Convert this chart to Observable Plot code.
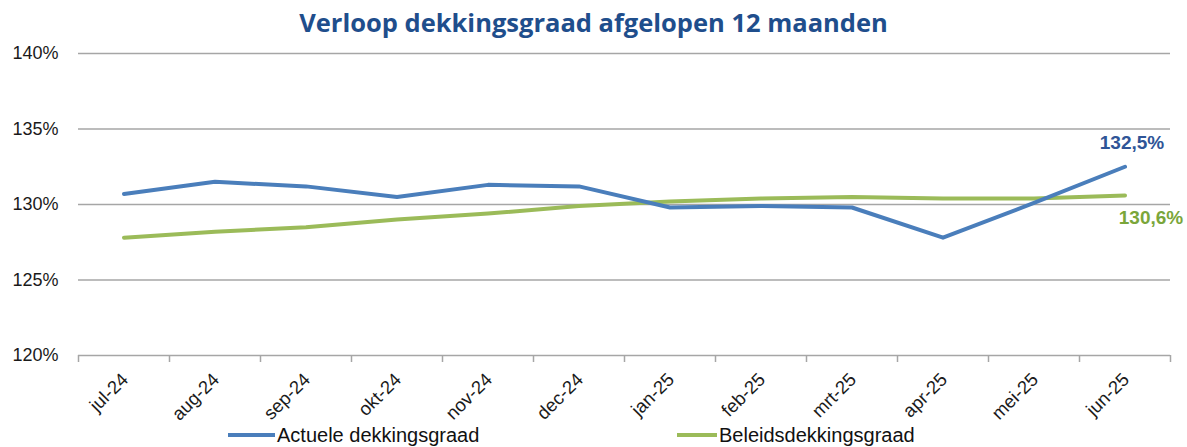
<!DOCTYPE html>
<html>
<head>
<meta charset="utf-8">
<script src="https://cdn.jsdelivr.net/npm/d3@7"></script>
<script src="https://cdn.jsdelivr.net/npm/@observablehq/plot@0.6"></script>
<style>
  html, body { margin: 0; padding: 0; background: #fff; }
  #wrap { position: relative; width: 1187px; height: 447px; overflow: hidden; font-family: "Liberation Sans", Arial, sans-serif; background: #fff; }
  #title { position: absolute; left: 0; top: 5px; width: 1187px; text-align: center; font-family: "Open Sans", sans-serif; font-weight: 700; font-size: 25.5px; color: #1f4e8c; line-height: 34px; }
  #chart { position: absolute; left: 0; top: 44px; }
  .leg { position: absolute; top: 424px; font-size: 20px; color: #111; line-height: 22px; display: flex; align-items: center; }
  .sw { display: inline-block; height: 4px; margin-right: 2px; }
</style>
</head>
<body>
<div id="wrap">
  <div id="title">Verloop dekkingsgraad afgelopen 12 maanden</div>
  <div id="chart"></div>
  <div class="leg" style="left:228px"><span class="sw" style="width:47px;background:#4a7ebb"></span>Actuele dekkingsgraad</div>
  <div class="leg" style="left:677px"><span class="sw" style="width:40px;background:#9bbb59"></span>Beleidsdekkingsgraad</div>
</div>
<script>
const months = ["jul-24","aug-24","sep-24","okt-24","nov-24","dec-24","jan-25","feb-25","mrt-25","apr-25","mei-25","jun-25"];
const actuele = [130.7,131.5,131.2,130.5,131.3,131.2,129.8,129.9,129.8,127.8,130.1,132.5];
const beleids = [127.8,128.2,128.5,129.0,129.4,129.9,130.2,130.4,130.5,130.4,130.4,130.6];
const yTicks = [120,125,130,135,140];

const dataA = months.map((m, i) => ({i, m, v: actuele[i]}));
const dataB = months.map((m, i) => ({i, m, v: beleids[i]}));
const fmt = v => v.toFixed(1).replace(".", ",") + "%";
const boundaries = d3.range(months.length + 1).map(i => i - 0.5);

const chart = Plot.plot({
  width: 1187,
  height: 380,
  marginLeft: 78,
  marginRight: 17,
  marginTop: 9,
  marginBottom: 69,
  x: {type: "linear", domain: [-0.5, months.length - 0.5]},
  y: {domain: [120, 140], range: [311, 9]},
  style: {fontFamily: "Liberation Sans, Arial, sans-serif", fontSize: "18px", color: "#1a1a1a", background: "transparent", overflow: "visible"},
  marks: [
    Plot.ruleY(yTicks, {stroke: "#a6a6a6", strokeWidth: 1.5}),
    Plot.axisY({ticks: yTicks, tickSize: 0, tickPadding: 20, tickFormat: d => d + "%", label: null, fontSize: 18}),
    Plot.axisX({ticks: boundaries, tickSize: 7, tickFormat: () => "", stroke: "#a6a6a6", strokeWidth: 1.5, label: null}),
    Plot.axisX({ticks: d3.range(months.length), tickSize: 0, tickRotate: -45, tickPadding: 21, tickFormat: i => months[i], label: null, fontSize: 18.5, dx: 1}),
    Plot.line(dataB, {x: "i", y: "v", stroke: "#9bbb59", strokeWidth: 4, strokeLinejoin: "round", strokeLinecap: "round"}),
    Plot.line(dataA, {x: "i", y: "v", stroke: "#4a7ebb", strokeWidth: 4, strokeLinejoin: "round", strokeLinecap: "round"}),
    Plot.text(dataA.slice(-1), {x: "i", y: "v", text: d => fmt(d.v), dx: 7, dy: -24, fill: "#2f5597", fontWeight: "bold", fontSize: 19}),
    Plot.text(dataB.slice(-1), {x: "i", y: "v", text: d => fmt(d.v), dx: 26, dy: 22, fill: "#7aa63a", fontWeight: "bold", fontSize: 19})
  ]
});
document.getElementById("chart").appendChild(chart);
</script>
</body>
</html>
